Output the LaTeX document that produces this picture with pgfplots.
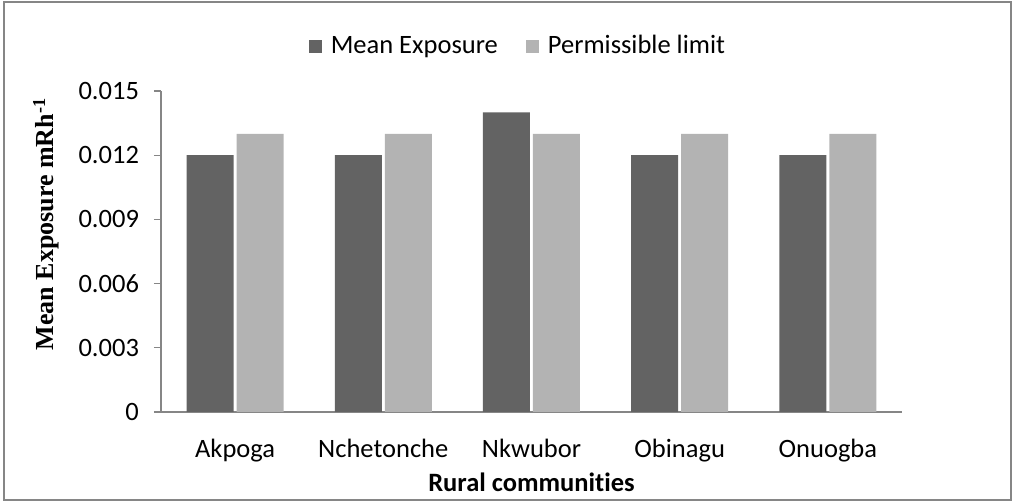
\documentclass[border=0pt]{standalone}
\usepackage{fontspec}
\setmainfont{Carlito}[Ligatures=NoCommon]
\newfontfamily\timesfont{Liberation Serif}
\usepackage{pgfplots}
\pgfplotsset{compat=1.18}
\definecolor{darkbar}{RGB}{99,99,99}
\definecolor{lightbar}{RGB}{179,179,179}
\definecolor{axgray}{RGB}{134,134,134}
\begin{document}
\begin{tikzpicture}
\path[use as bounding box] (0,0) rectangle (507pt,251pt);
\draw[axgray, line width=0.6pt] (2pt,1pt) rectangle (505.5pt,250pt);
\begin{axis}[
  at={(80.5pt,45pt)}, anchor=south west,
  scale only axis, width=370.5pt, height=160.5pt,
  font=\fontsize{13.25}{16}\selectfont,
  ybar, bar width=23.5pt,
  xmin=-0.5, xmax=4.5, ymin=0, ymax=0.015,
  enlargelimits=false,
  axis lines*=left,
  axis line style={axgray, line width=0.6pt},
  xtick={0,1,2,3,4},
  xticklabels={Akpoga,Nchetonche,Nkwubor,Obinagu,Onuogba},
  x tick style={draw=none},
  xticklabel style={yshift=-6.5pt},
  ytick={0,0.003,0.006,0.009,0.012,0.015},
  yticklabels={0,0.003,0.006,0.009,0.012,0.015},
  scaled y ticks=false,
  y tick style={axgray, line width=0.6pt},
  tick align=outside, major tick length=3.5pt,
  yticklabel style={xshift=-4pt},
  xlabel={\bfseries Rural communities},
  xlabel style={at={(axis description cs:0.5,-0.247)}, anchor=base},
  ylabel={\timesfont\bfseries\fontsize{13}{15}\selectfont Mean Exposure mRh\textsuperscript{-1}},
  ylabel style={at={(axis description cs:-0.155,0.586)}, anchor=center},
  legend columns=2,
  legend style={draw=none, fill=none, at={(axis description cs:0.483,1.14)}, anchor=center,
    /tikz/every odd column/.append style={column sep=2.5pt},
    /tikz/every even column/.append style={column sep=12pt}},
  legend image code/.code={\fill[#1] (0pt,-3.25pt) rectangle (6.5pt,3.25pt);},
]
\addplot[fill=darkbar, draw=none, bar shift=-12.5pt] coordinates {(0,0.012) (1,0.012) (2,0.014) (3,0.012) (4,0.012)};
\addplot[fill=lightbar, draw=none, bar shift=12.5pt] coordinates {(0,0.013) (1,0.013) (2,0.013) (3,0.013) (4,0.013)};
\legend{Mean Exposure, Permissible limit}
\end{axis}
\end{tikzpicture}
\end{document}
